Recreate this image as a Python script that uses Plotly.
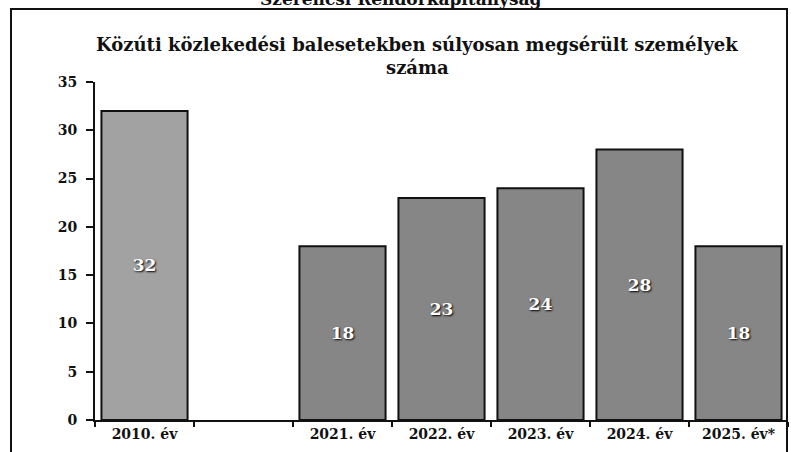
import plotly.graph_objects as go

categories = ["2010. év", " ", "2021. év", "2022. év", "2023. év", "2024. év", "2025. év*"]
values = [32, None, 18, 23, 24, 28, 18]
bar_colors = ["#a2a2a2", "#868686", "#868686", "#868686", "#868686", "#868686", "#868686"]
y_ticks = [0, 5, 10, 15, 20, 25, 30, 35]
title_line1 = "Közúti közlekedési balesetekben súlyosan megsérült személyek"
title_line2 = "száma"
header = "Szerencsi Rendőrkapitányság"

W, H = 791, 452
L, R, T, B = 95, 3, 82, 32
pw, ph = W - L - R, H - T - B

def px_x(x):
    return (x - L) / pw

def px_y(y):
    return (H - B - y) / ph

serif = "DejaVu Serif, Liberation Serif, serif"

fig = go.Figure(go.Bar(
    x=categories,
    y=values,
    marker=dict(color=bar_colors, line=dict(color="#111111", width=2)),
    text=[str(v) if v is not None else "" for v in values],
    textposition="inside",
    insidetextanchor="middle",
    textangle=0,
    textfont=dict(family=serif, size=17, color="white", weight="bold",
                  shadow="1px 1px 2px #000000"),
    cliponaxis=False,
))

fig.update_layout(
    width=W, height=H,
    margin=dict(l=L, r=R, t=T, b=B, autoexpand=False),
    paper_bgcolor="white", plot_bgcolor="white",
    bargap=0.13,
    showlegend=False,
    font=dict(family=serif, color="#111111"),
)
fig.update_xaxes(
    type="category", automargin=False,
    showline=True, linecolor="#111111", linewidth=2,
    ticks="outside", ticklen=5, tickwidth=2, tickcolor="#111111",
    tickson="boundaries",
    tickfont=dict(family=serif, size=14, color="#111111", weight="bold"),
    showgrid=False,
)
fig.update_yaxes(
    range=[0, 35], tickvals=y_ticks, automargin=False,
    showline=True, linecolor="#111111", linewidth=2,
    ticks="outside", ticklen=7, tickwidth=2, tickcolor="#111111",
    ticklabelstandoff=6,
    tickfont=dict(family=serif, size=14, color="#111111", weight="bold"),
    showgrid=False, zeroline=False,
)

# outer frame of the scanned document
fig.add_shape(type="rect", xref="paper", yref="paper",
              x0=px_x(11), x1=px_x(787), y0=px_y(470), y1=px_y(9),
              line=dict(color="#111111", width=2), fillcolor="rgba(0,0,0,0)")

fig.add_annotation(text=title_line1, xref="paper", yref="paper",
                   x=px_x(417), y=px_y(44), xanchor="center", yanchor="middle",
                   showarrow=False,
                   font=dict(family=serif, size=18, color="#111111", weight="bold"))
fig.add_annotation(text=title_line2, xref="paper", yref="paper",
                   x=px_x(417), y=px_y(67), xanchor="center", yanchor="middle",
                   showarrow=False,
                   font=dict(family=serif, size=18, color="#111111", weight="bold"))
fig.add_annotation(text=header, xref="paper", yref="paper",
                   x=px_x(400), y=px_y(-1), xanchor="center", yanchor="middle",
                   showarrow=False,
                   font=dict(family=serif, size=17, color="#111111", weight="bold"))

fig.write_html("out.html", config={"displayModeBar": False},
               post_script="document.body.style.margin='0';")
